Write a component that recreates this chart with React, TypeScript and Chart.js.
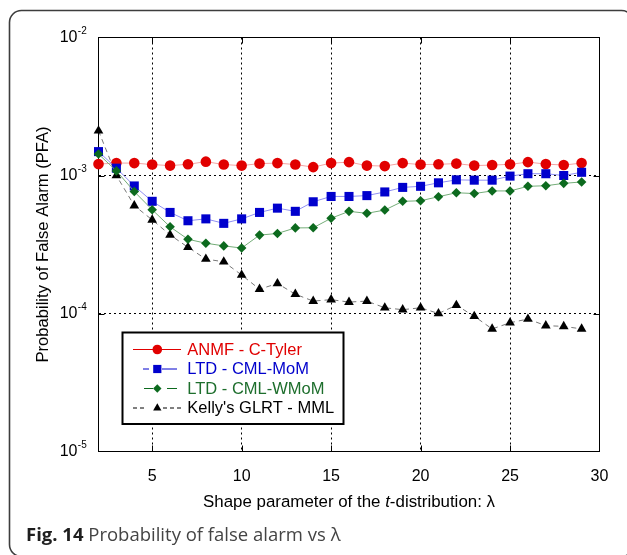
import React, { useEffect, useRef } from 'react';
import { Chart, registerables } from 'chart.js';

Chart.register(...registerables);

// ---------------- data ----------------
const lambdaValues = [2, 3, 4, 5, 6, 7, 8, 9, 10, 11, 12, 13, 14, 15, 16, 17, 18, 19, 20, 21, 22, 23, 24, 25, 26, 27, 28, 29];

const anmfCTyler = [
  1.21e-3, 1.23e-3, 1.23e-3, 1.2e-3, 1.18e-3, 1.205e-3, 1.26e-3, 1.2e-3, 1.18e-3, 1.22e-3,
  1.23e-3, 1.2e-3, 1.15e-3, 1.23e-3, 1.25e-3, 1.18e-3, 1.17e-3, 1.23e-3, 1.2e-3, 1.205e-3,
  1.22e-3, 1.18e-3, 1.19e-3, 1.205e-3, 1.25e-3, 1.21e-3, 1.19e-3, 1.23e-3,
];

const ltdCmlMoM = [
  1.49e-3, 1.13e-3, 8.4e-4, 6.5e-4, 5.4e-4, 4.7e-4, 4.85e-4, 4.5e-4, 4.85e-4, 5.4e-4,
  5.8e-4, 5.5e-4, 6.45e-4, 7.05e-4, 7.05e-4, 7.15e-4, 7.6e-4, 8.2e-4, 8.35e-4, 8.85e-4,
  9.3e-4, 9.25e-4, 9.25e-4, 9.9e-4, 1.03e-3, 1.03e-3, 1.0e-3, 1.055e-3,
];

const ltdCmlWMoM = [
  1.43e-3, 1.08e-3, 7.65e-4, 5.65e-4, 4.25e-4, 3.45e-4, 3.23e-4, 3.09e-4, 2.98e-4, 3.7e-4,
  3.8e-4, 4.17e-4, 4.18e-4, 4.9e-4, 5.5e-4, 5.32e-4, 5.62e-4, 6.5e-4, 6.56e-4, 7.02e-4,
  7.5e-4, 7.4e-4, 7.73e-4, 7.73e-4, 8.35e-4, 8.43e-4, 8.77e-4, 8.98e-4,
];

const kellyGlrtMml = [
  2.11e-3, 1.0e-3, 6.05e-4, 4.77e-4, 3.71e-4, 3.02e-4, 2.48e-4, 2.37e-4, 1.9e-4, 1.5e-4,
  1.65e-4, 1.38e-4, 1.23e-4, 1.26e-4, 1.21e-4, 1.23e-4, 1.1e-4, 1.066e-4, 1.1e-4, 1.0e-4,
  1.148e-4, 9.55e-5, 7.73e-5, 8.57e-5, 9.12e-5, 8.16e-5, 8.07e-5, 7.73e-5,
];

const seriesLabels = ['ANMF - C-Tyler', 'LTD - CML-MoM', 'LTD - CML-WMoM', "Kelly's GLRT - MML"];
const xTickValues = [5, 10, 15, 20, 25, 30];
const yTickValues = [1e-5, 1e-4, 1e-3, 1e-2];
const xTitleParts = ['Shape parameter of the ', 't', '-distribution: ', 'λ'];
const yTitleText = 'Probability of False Alarm (PFA)';
const captionBold = 'Fig. 14';
const captionRest = ' Probability of false alarm vs λ';

// ---------------- styles ----------------
const FONT = '"Liberation Sans", Arial, sans-serif';
const CAPTION_FONT = '"Open Sans", "Noto Sans", sans-serif';

const seriesStyles = [
  { line: '#f4a3a3', marker: '#e10000', text: '#e00000', pointStyle: 'circle', radius: 5.3, legendR: 4.8, dash: [] as number[], legendSegs: [[133, 181]], order: 4 },
  { line: '#8f8ff2', marker: '#0000cd', text: '#0000cc', pointStyle: 'rect', radius: 6.4, legendR: 5.8, dash: [] as number[], legendSegs: [[143, 149], [162, 177]], order: 2 },
  { line: '#74ad78', marker: '#0c6a1e', text: '#1d6e2c', pointStyle: 'rectRot', radius: 4.8, legendR: 4.2, dash: [] as number[], legendSegs: [[144, 153], [167, 177]], order: 1 },
  { line: '#777777', marker: '#000000', text: '#000000', pointStyle: 'triangle', radius: 5.6, legendR: 4.8, dash: [5, 4], legendSegs: [[133, 137], [140, 144], [163, 167], [170, 174], [177, 181]], order: 3 },
];

const seriesValues = [anmfCTyler, ltdCmlMoM, ltdCmlWMoM, kellyGlrtMml];

function drawMarker(ctx: CanvasRenderingContext2D, style: string, x: number, y: number, r: number) {
  ctx.beginPath();
  if (style === 'circle') {
    ctx.arc(x, y, r, 0, Math.PI * 2);
  } else if (style === 'rect') {
    const s = Math.SQRT1_2 * r;
    ctx.rect(x - s, y - s, 2 * s, 2 * s);
  } else if (style === 'rectRot') {
    ctx.moveTo(x, y - r);
    ctx.lineTo(x + r, y);
    ctx.lineTo(x, y + r);
    ctx.lineTo(x - r, y);
    ctx.closePath();
  } else {
    const h = r * 1.5;
    const side = r * Math.sqrt(3);
    ctx.moveTo(x, y - h * 2 / 3);
    ctx.lineTo(x + side / 2, y + h / 3);
    ctx.lineTo(x - side / 2, y + h / 3);
    ctx.closePath();
  }
  ctx.fill();
}

const decorPlugin = {
  id: 'decor',
  beforeDatasetsDraw(chart: any) {
    const { ctx, chartArea: a, scales } = chart;
    ctx.save();
    ctx.strokeStyle = '#000';
    ctx.lineWidth = 1;
    ctx.setLineDash([]);
    ctx.strokeRect(a.left, a.top, a.right - a.left, a.bottom - a.top);
    const tl = 6;
    ctx.beginPath();
    scales.x.ticks.forEach((t: any) => {
      const px = Math.round(scales.x.getPixelForValue(t.value)) + 0.5;
      if (px > a.left + 2 && px < a.right - 2) {
        ctx.moveTo(px, a.bottom);
        ctx.lineTo(px, a.bottom - tl);
        ctx.moveTo(px, a.top);
        ctx.lineTo(px, a.top + tl);
      }
    });
    scales.y.ticks.forEach((t: any) => {
      const py = Math.round(scales.y.getPixelForValue(t.value)) + 0.5;
      if (py > a.top + 2 && py < a.bottom - 2) {
        ctx.moveTo(a.left, py);
        ctx.lineTo(a.left + tl, py);
        ctx.moveTo(a.right, py);
        ctx.lineTo(a.right - tl, py);
      }
    });
    ctx.stroke();
    ctx.restore();
  },
  afterDraw(chart: any) {
    const { ctx, chartArea: a, scales } = chart;
    ctx.save();

    // y tick labels 10^n
    ctx.fillStyle = '#000';
    scales.y.ticks.forEach((t: any) => {
      const py = scales.y.getPixelForValue(t.value);
      const exp = Math.round(Math.log10(t.value));
      ctx.font = `16px ${FONT}`;
      ctx.textAlign = 'right';
      ctx.textBaseline = 'middle';
      ctx.fillText('10', 77.5, py + 0.5);
      ctx.font = `10px ${FONT}`;
      ctx.textAlign = 'left';
      ctx.fillText(String(exp), 77.8, py - 6);
    });

    // y title
    ctx.save();
    ctx.translate(43, (a.top + a.bottom) / 2);
    ctx.rotate(-Math.PI / 2);
    ctx.font = `16.6px ${FONT}`;
    ctx.textAlign = 'center';
    ctx.textBaseline = 'middle';
    ctx.fillText(yTitleText, 0, 0);
    ctx.restore();

    // x title with italic t
    const fonts = [`16.9px ${FONT}`, `italic 16.9px ${FONT}`, `16.9px ${FONT}`, `16.9px ${FONT}`];
    let total = 0;
    const widths = xTitleParts.map((p, i) => {
      ctx.font = fonts[i];
      const w = ctx.measureText(p).width;
      total += w;
      return w;
    });
    let xx = (a.left + a.right) / 2 - total / 2;
    ctx.textAlign = 'left';
    ctx.textBaseline = 'middle';
    xTitleParts.forEach((p, i) => {
      ctx.font = fonts[i];
      ctx.fillText(p, xx, 502);
      xx += widths[i];
    });

    // legend
    const lx = 122.5, ly = 332.5, lw = 221, lh = 91.5;
    ctx.fillStyle = '#fff';
    ctx.fillRect(lx, ly, lw, lh);
    ctx.strokeStyle = '#000';
    ctx.lineWidth = 2;
    ctx.setLineDash([]);
    ctx.strokeRect(lx, ly, lw, lh);
    const rowY = [349.5, 369, 388.5, 408];
    chart.data.datasets.forEach((ds: any, i: number) => {
      const st = seriesStyles[i];
      const y = rowY[i];
      ctx.strokeStyle = st.marker;
      ctx.lineWidth = 1;
      ctx.beginPath();
      st.legendSegs.forEach((s) => {
        ctx.moveTo(s[0], y);
        ctx.lineTo(s[1], y);
      });
      ctx.stroke();
      ctx.fillStyle = st.marker;
      drawMarker(ctx, st.pointStyle, 157.3, y, st.legendR);
      ctx.fillStyle = st.text;
      ctx.font = `16.5px ${FONT}`;
      ctx.textAlign = 'left';
      ctx.textBaseline = 'middle';
      ctx.fillText(ds.label, 187.3, y + 0.5);
    });

    // caption
    ctx.textBaseline = 'alphabetic';
    ctx.font = `bold 18.5px ${CAPTION_FONT}`;
    ctx.fillStyle = '#1e1e1e';
    ctx.fillText(captionBold, 26, 541);
    const bw = ctx.measureText(captionBold).width;
    ctx.font = `18.5px ${CAPTION_FONT}`;
    ctx.fillStyle = '#444';
    ctx.fillText(captionRest, 26 + bw, 541);

    // frame
    ctx.strokeStyle = '#3d3d3d';
    ctx.lineWidth = 1.6;
    ctx.beginPath();
    (ctx as any).roundRect(9.5, 10.5, 624, 546, 12);
    ctx.stroke();

    ctx.restore();
  },
};

export default function App() {
  const canvasRef = useRef<HTMLCanvasElement | null>(null);

  useEffect(() => {
    if (!canvasRef.current) return;
    const datasets = seriesValues.map((vals, i) => {
      const st = seriesStyles[i];
      return {
        label: seriesLabels[i],
        data: lambdaValues.map((x, j) => ({ x, y: vals[j] })),
        borderColor: st.line,
        borderWidth: 1,
        borderDash: st.dash,
        backgroundColor: st.marker,
        pointBackgroundColor: st.marker,
        pointBorderColor: st.marker,
        pointBorderWidth: 0,
        pointStyle: st.pointStyle,
        pointRadius: st.radius,
        tension: 0,
        fill: false,
        clip: false,
        order: st.order,
      };
    });

    const chart = new Chart(canvasRef.current, {
      type: 'line',
      data: { datasets } as any,
      options: {
        animation: false,
        responsive: false,
        devicePixelRatio: 1,
        layout: { padding: { top: 37.5, right: 27.5, left: 0, bottom: 0 } },
        plugins: {
          legend: { display: false },
          tooltip: { enabled: false },
          title: { display: false },
        },
        scales: {
          x: {
            type: 'linear',
            min: 2,
            max: 30,
            afterBuildTicks: (s: any) => {
              s.ticks = xTickValues.map((v) => ({ value: v }));
            },
            afterFit: (s: any) => {
              s.height = 103.5;
            },
            ticks: {
              color: '#000',
              font: { family: FONT, size: 16 },
              padding: 15,
              maxRotation: 0,
              autoSkip: false,
            },
            grid: { color: '#000', lineWidth: 1, drawTicks: false },
            border: { display: true, color: '#000', width: 1, dash: [2, 3] },
          },
          y: {
            type: 'logarithmic',
            min: 1e-5,
            max: 1e-2,
            afterBuildTicks: (s: any) => {
              s.ticks = yTickValues.map((v) => ({ value: v }));
            },
            afterFit: (s: any) => {
              s.width = 98.5;
            },
            ticks: { display: false },
            grid: { color: '#000', lineWidth: 1, drawTicks: false },
            border: { display: true, color: '#000', width: 1, dash: [2, 3] },
          },
        },
      } as any,
      plugins: [decorPlugin],
    });
    return () => chart.destroy();
  }, []);

  return (
    <div style={{ position: 'absolute', left: 0, top: 0, width: 627, height: 555, background: '#fff' }}>
      <canvas ref={canvasRef} width={627} height={555} style={{ width: 627, height: 555, display: 'block' }} />
    </div>
  );
}
